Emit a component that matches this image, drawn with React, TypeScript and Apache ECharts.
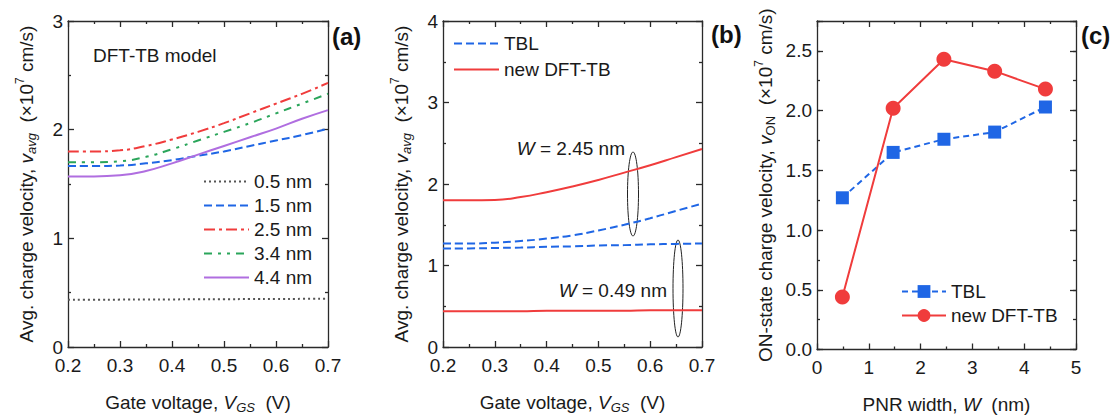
import React, { useEffect, useRef } from "react";
import * as echarts from "echarts";

// ---------- data ----------
const vgs = [0.2, 0.25, 0.3, 0.35, 0.4, 0.45, 0.5, 0.55, 0.6, 0.65, 0.7];

// panel (a): DFT-TB model, avg. charge velocity (x1e7 cm/s)
const a05 = [0.435, 0.435, 0.436, 0.437, 0.438, 0.439, 0.44, 0.441, 0.442, 0.443, 0.445];
const a15 = [1.665, 1.665, 1.67, 1.69, 1.72, 1.76, 1.8, 1.85, 1.9, 1.95, 2.01];
const a25 = [1.8, 1.8, 1.81, 1.85, 1.91, 1.98, 2.06, 2.15, 2.24, 2.33, 2.43];
const a34 = [1.7, 1.7, 1.71, 1.75, 1.82, 1.9, 1.98, 2.06, 2.15, 2.24, 2.33];
const a44 = [1.57, 1.57, 1.58, 1.62, 1.69, 1.77, 1.85, 1.93, 2.01, 2.1, 2.18];

// panel (b): TBL vs new DFT-TB for W = 2.45 nm and W = 0.49 nm
const bTblWide = [1.27, 1.27, 1.28, 1.3, 1.33, 1.37, 1.43, 1.5, 1.58, 1.67, 1.76];
const bTblNarrow = [1.21, 1.21, 1.215, 1.22, 1.23, 1.235, 1.245, 1.25, 1.26, 1.265, 1.27];
const bDftWide = [1.8, 1.8, 1.805, 1.84, 1.9, 1.97, 2.05, 2.14, 2.23, 2.33, 2.43];
const bDftNarrow = [0.44, 0.44, 0.44, 0.44, 0.445, 0.445, 0.445, 0.445, 0.45, 0.45, 0.45];

// panel (c): ON-state charge velocity vs PNR width
const pnrWidth = [0.49, 1.47, 2.45, 3.43, 4.41];
const vonTbl = [1.27, 1.65, 1.76, 1.82, 2.03];
const vonDft = [0.44, 2.02, 2.43, 2.33, 2.18];

const legendA = ["0.5 nm", "1.5 nm", "2.5 nm", "3.4 nm", "4.4 nm"];
const legendB = ["TBL", "new DFT-TB"];
const legendC = ["TBL (c)", "new DFT-TB (c)"];

// ---------- style ----------
const FF = "'Liberation Sans', Arial, sans-serif";
const TXT = "#1a1a1a";
const AX = "#2a2a2a";
const BLUE = "#1f66e5";
const RED = "#f03c3c";
const GREEN = "#2aa55a";
const PURPLE = "#b06ee0";
const GRAY = "#555555";

const pts = (ys: number[]) => vgs.map((x, i) => [x, ys[i]]);

const rich = {
  n: { fontSize: 19, fontFamily: FF, color: TXT, lineHeight: 24 },
  i: { fontSize: 19, fontFamily: FF, fontStyle: "italic", color: TXT, lineHeight: 24 },
  sub: { fontSize: 13, fontFamily: FF, fontStyle: "italic", color: TXT, verticalAlign: "bottom", lineHeight: 14 },
  subu: { fontSize: 13, fontFamily: FF, color: TXT, verticalAlign: "bottom", lineHeight: 14 },
  sup: { fontSize: 12, fontFamily: FF, color: TXT, verticalAlign: "top", lineHeight: 12 },
};

const lineStyle = { color: AX, width: 1.3 };

function axis(opts: any) {
  const {
    dim, grid, pos, min, max, interval, labels, fmt, name, nameGap,
    minor = true, tickLen = 6, showLine = true,
  } = opts;
  const a: any = {
    type: "value",
    gridIndex: grid,
    position: pos,
    min,
    max,
    interval,
    axisLine: { show: showLine, onZero: false, lineStyle },
    axisTick: { show: true, inside: true, length: tickLen, lineStyle },
    minorTick: { show: minor, splitNumber: 2, length: 3, lineStyle },
    splitLine: { show: false },
    minorSplitLine: { show: false },
    axisLabel: {
      show: !!labels,
      fontSize: 19,
      fontFamily: FF,
      color: TXT,
      lineHeight: dim === "x" ? 16 : 14,
      margin: dim === "x" ? 10 : 5,
      formatter: fmt,
    },
  };
  if (name) {
    a.name = name;
    a.nameLocation = "middle";
    a.nameGap = nameGap;
    if (dim === "y") a.nameRotate = 90;
    a.nameTextStyle = { fontSize: 19, fontFamily: FF, color: TXT, rich };
  }
  return a;
}

const f1 = (v: number) => v.toFixed(1);
const f0 = (v: number) => String(Math.round(v));
const fC = (v: number) => (v > 2.6 ? "" : v.toFixed(1));

const nameVgs = "{n|Gate voltage, }{i|V}{sub|GS}{n|  (V)}";
const nameVavg = "{n|Avg. charge velocity, }{i|v}{sub|avg}{n|  (×10}{sup|7}{n| cm/s)}";
const nameVon = "{n|ON-state charge velocity, }{i|v}{subu|ON}{n|  (×10}{sup|7}{n| cm/s)}";
const nameW = "{n|PNR width, }{i|W}{n|  (nm)}";

function lineSeries(name: string, xi: number, yi: number, data: any, color: string, type: any) {
  return {
    type: "line",
    name,
    xAxisIndex: xi,
    yAxisIndex: yi,
    data,
    smooth: true,
    symbol: "none",
    color,
    lineStyle: { color, width: 2, type },
    z: 3,
  };
}

const legendText = { fontSize: 19, fontFamily: FF, color: TXT, lineHeight: 19 };

export default function App() {
  const ref = useRef<HTMLDivElement>(null);
  useEffect(() => {
    if (!ref.current) return;
    const chart = echarts.init(ref.current, undefined, { renderer: "svg" });
    const option: any = {
      animation: false,
      backgroundColor: "#ffffff",
      textStyle: { fontFamily: FF },
      grid: [
        { left: 68, top: 21, width: 260, height: 334 },
        { left: 443, top: 21, width: 259, height: 334 },
        { left: 817, top: 21, width: 259, height: 334 },
      ],
      xAxis: [
        axis({ dim: "x", grid: 0, pos: "bottom", min: 0.2, max: 0.7, interval: 0.1, labels: true, fmt: f1, name: nameVgs, nameGap: 43 }),
        axis({ dim: "x", grid: 0, pos: "top", min: 0.2, max: 0.7, interval: 0.1 }),
        axis({ dim: "x", grid: 1, pos: "bottom", min: 0.2, max: 0.7, interval: 0.1, labels: true, fmt: f1, name: nameVgs, nameGap: 43 }),
        axis({ dim: "x", grid: 1, pos: "top", min: 0.2, max: 0.7, interval: 0.1 }),
        axis({ dim: "x", grid: 2, pos: "bottom", min: 0, max: 5, interval: 1, labels: true, fmt: f0, name: nameW, nameGap: 43 }),
        axis({ dim: "x", grid: 2, pos: "top", min: 0, max: 5, interval: 1 }),
      ],
      yAxis: [
        axis({ dim: "y", grid: 0, pos: "left", min: 0, max: 3, interval: 1, labels: true, fmt: f0, name: nameVavg, nameGap: 30 }),
        axis({ dim: "y", grid: 0, pos: "right", min: 0, max: 3, interval: 1 }),
        axis({ dim: "y", grid: 1, pos: "left", min: 0, max: 4, interval: 1, labels: true, fmt: f0, name: nameVavg, nameGap: 30 }),
        axis({ dim: "y", grid: 1, pos: "right", min: 0, max: 4, interval: 1 }),
        axis({ dim: "y", grid: 2, pos: "left", min: 0, max: 2.75, interval: 0.5, labels: true, fmt: fC, name: nameVon, nameGap: 40, minor: false }),
        axis({ dim: "y", grid: 2, pos: "right", min: 0, max: 2.75, interval: 0.5, minor: false }),
        axis({ dim: "y", grid: 2, pos: "left", min: 0, max: 2.75, interval: 0.25, minor: false, tickLen: 3, showLine: false }),
        axis({ dim: "y", grid: 2, pos: "right", min: 0, max: 2.75, interval: 0.25, minor: false, tickLen: 3, showLine: false }),
      ],
      legend: [
        {
          data: legendA, orient: "vertical", left: 203, top: 172, padding: 0,
          itemWidth: 45, itemHeight: 14, itemGap: 5, textStyle: legendText,
          itemStyle: { opacity: 0 },
          selectedMode: false,
        },
        {
          data: legendB, orient: "vertical", left: 453, top: 34, padding: 0,
          itemWidth: 45, itemHeight: 14, itemGap: 7, textStyle: legendText,
          itemStyle: { opacity: 0 },
          selectedMode: false,
        },
        {
          data: legendC, orient: "vertical", left: 901, top: 282, padding: 0,
          itemWidth: 44, itemHeight: 16, itemGap: 5, textStyle: legendText,
          selectedMode: false,
          formatter: (n: string) => n.replace(" (c)", ""),
        },
      ],
      series: [
        lineSeries(legendA[0], 0, 0, pts(a05), GRAY, [2, 3]),
        lineSeries(legendA[1], 0, 0, pts(a15), BLUE, [8, 4]),
        lineSeries(legendA[2], 0, 0, pts(a25), RED, [11, 4, 3, 4]),
        lineSeries(legendA[3], 0, 0, pts(a34), GREEN, [8, 6, 3, 6, 3, 6]),
        lineSeries(legendA[4], 0, 0, pts(a44), PURPLE, "solid"),

        lineSeries(legendB[0], 2, 2, pts(bTblWide), BLUE, [8, 4]),
        lineSeries(legendB[0], 2, 2, pts(bTblNarrow), BLUE, [8, 4]),
        lineSeries(legendB[1], 2, 2, pts(bDftWide), RED, "solid"),
        lineSeries(legendB[1], 2, 2, pts(bDftNarrow), RED, "solid"),

        {
          type: "line",
          name: legendC[0],
          xAxisIndex: 4,
          yAxisIndex: 4,
          data: pnrWidth.map((x, i) => [x, vonTbl[i]]),
          symbol: "rect",
          symbolSize: 13,
          color: BLUE,
          itemStyle: { color: BLUE },
          lineStyle: { color: BLUE, width: 2, type: [6, 4] },
          z: 3,
        },
        {
          type: "line",
          name: legendC[1],
          xAxisIndex: 4,
          yAxisIndex: 4,
          data: pnrWidth.map((x, i) => [x, vonDft[i]]),
          symbol: "circle",
          symbolSize: 15,
          color: RED,
          itemStyle: { color: RED },
          lineStyle: { color: RED, width: 2, type: "solid" },
          z: 4,
        },
      ],
      graphic: [
        { type: "text", x: 332, y: 36, style: { text: "(a)", fontSize: 24, fontWeight: "bold", fontFamily: FF, fill: "#111", verticalAlign: "middle" } },
        { type: "text", x: 711, y: 34, style: { text: "(b)", fontSize: 24, fontWeight: "bold", fontFamily: FF, fill: "#111", verticalAlign: "middle" } },
        { type: "text", x: 1081, y: 35, style: { text: "(c)", fontSize: 24, fontWeight: "bold", fontFamily: FF, fill: "#111", verticalAlign: "middle" } },
        { type: "text", x: 93, y: 55, style: { text: "DFT-TB model", fontSize: 19, fontFamily: FF, fill: TXT, verticalAlign: "middle" } },
        {
          type: "text", x: 625, y: 148,
          style: {
            text: "{i|W}{n| = 2.45 nm}", align: "right", verticalAlign: "middle",
            rich: { i: { fontSize: 19, fontFamily: FF, fontStyle: "italic", fill: TXT }, n: { fontSize: 19, fontFamily: FF, fill: TXT } },
          },
        },
        {
          type: "text", x: 667, y: 290,
          style: {
            text: "{i|W}{n| = 0.49 nm}", align: "right", verticalAlign: "middle",
            rich: { i: { fontSize: 19, fontFamily: FF, fontStyle: "italic", fill: TXT }, n: { fontSize: 19, fontFamily: FF, fill: TXT } },
          },
        },
        { type: "ellipse", shape: { cx: 633, cy: 194, rx: 5.5, ry: 42 }, style: { fill: "none", stroke: "#222", lineWidth: 1 } },
        { type: "ellipse", shape: { cx: 678, cy: 288.5, rx: 5, ry: 48.5 }, style: { fill: "none", stroke: "#222", lineWidth: 1 } },
      ],
    };
    chart.setOption(option);
    return () => chart.dispose();
  }, []);
  return (
    <div
      ref={ref}
      style={{ position: "fixed", left: 0, top: 0, width: 1117, height: 419, background: "#fff" }}
    />
  );
}
